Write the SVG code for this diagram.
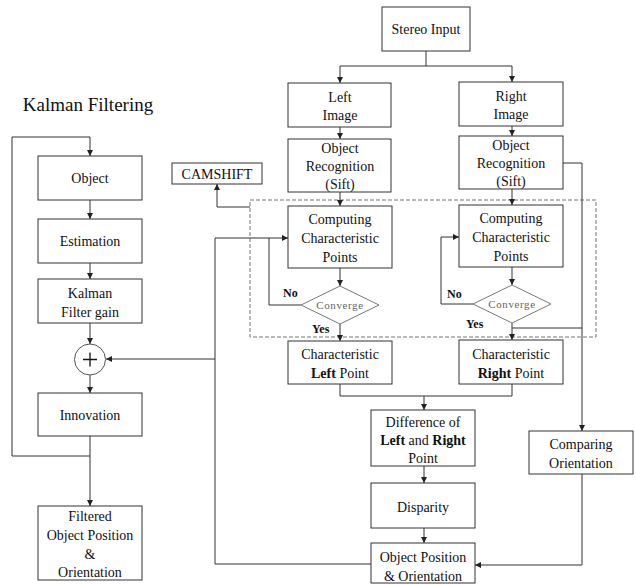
<svg xmlns="http://www.w3.org/2000/svg" width="636" height="585" viewBox="0 0 636 585" font-family="Liberation Serif, Times New Roman, serif">
<defs>
<marker id="ah" markerUnits="userSpaceOnUse" markerWidth="7" markerHeight="7" refX="6" refY="3.5" orient="auto">
<path d="M0,0.5 L6,3.5 L0,6.5 Z" fill="#222"/>
</marker>
<style>
.box{fill:#fff;stroke:#333;stroke-width:1}
.t{font-family:Liberation Serif, serif;font-size:14px;fill:#111;text-anchor:middle}
.b{font-weight:bold}
.c{fill:none;stroke:#333;stroke-width:1}
.a{fill:none;stroke:#333;stroke-width:1;marker-end:url(#ah)}
.dia{fill:#fff;stroke:#777;stroke-width:1}
.cv{font-family:Liberation Serif, serif;font-size:11px;fill:#666;text-anchor:middle;letter-spacing:0.6px}
.lbl{font-family:Liberation Serif, serif;font-size:12px;font-weight:bold;fill:#111}
.ttl{font-family:Liberation Serif, serif;font-size:19px;fill:#111;text-anchor:middle}
</style>
</defs>
<rect width="636" height="585" fill="#fff"/>

<text class="ttl" x="88" y="111" font-family="Liberation Serif">Kalman Filtering</text>

<rect x="250" y="200" width="346" height="137" fill="none" stroke="#777" stroke-width="1" stroke-dasharray="4 2"/>

<g id="connectors">
<path class="c" d="M426,51 V66"/>
<path class="a" d="M426,66 H340 V83"/>
<path class="a" d="M426,66 H512 V82"/>
<path class="a" d="M340,127 V139"/>
<path class="a" d="M512,126 V136"/>
<path class="a" d="M340,192 V206"/>
<path class="a" d="M512,189 V205"/>
<path class="a" d="M250,207 H217 V184"/>
<path class="a" d="M340,268 V286"/>
<path class="a" d="M512,267 V285"/>
<path class="c" d="M301,305 H269 V238"/>
<path class="a" d="M473,304 H441 V237 H459"/>
<path class="a" d="M340,324 V341"/>
<path class="a" d="M512,323 V340"/>
<path class="c" d="M512,328 H582"/>
<path class="a" d="M563,163 H582 V431"/>
<path class="a" d="M582,474 V565 H475"/>
<path class="c" d="M340,384 V396 H512 V384"/>
<path class="a" d="M424,396 V410"/>
<path class="a" d="M424,466 V483"/>
<path class="a" d="M424,528 V543"/>
<path class="a" d="M371,564 H215 V238 H288"/>
<path class="a" d="M215,359 H106"/>
<path class="a" d="M90,200 V219"/>
<path class="a" d="M90,263 V279"/>
<path class="a" d="M90,323 V344"/>
<path class="a" d="M90,375 V393"/>
<path class="a" d="M90,436 V456 H12 V137 H90 V156"/>
<path class="a" d="M90,456 V506"/>
</g>

<g id="stereo"><rect class="box" x="382" y="7" width="88" height="44"/><text class="t" x="426" y="34">Stereo Input</text></g>
<g id="left-image"><rect class="box" x="288" y="83" width="103" height="44"/><text class="t" x="340" y="102">Left</text><text class="t" x="340" y="120">Image</text></g>
<g id="right-image"><rect class="box" x="459" y="82" width="104" height="44"/><text class="t" x="511" y="101">Right</text><text class="t" x="511" y="119">Image</text></g>
<g id="left-or"><rect class="box" x="288" y="139" width="103" height="53"/><text class="t" x="340" y="153">Object</text><text class="t" x="340" y="171">Recognition</text><text class="t" x="340" y="189">(Sift)</text></g>
<g id="right-or"><rect class="box" x="459" y="136" width="104" height="53"/><text class="t" x="511" y="150">Object</text><text class="t" x="511" y="168">Recognition</text><text class="t" x="511" y="186">(Sift)</text></g>
<g id="camshift"><rect class="box" x="172" y="163" width="90" height="21"/><text class="t" x="217" y="179">CAMSHIFT</text></g>
<g id="left-ccp"><rect class="box" x="288" y="206" width="104" height="62"/><text class="t" x="340" y="224">Computing</text><text class="t" x="340" y="243">Characteristic</text><text class="t" x="340" y="262">Points</text></g>
<g id="right-ccp"><rect class="box" x="459" y="205" width="104" height="62"/><text class="t" x="511" y="223">Computing</text><text class="t" x="511" y="242">Characteristic</text><text class="t" x="511" y="261">Points</text></g>
<g id="left-conv"><polygon class="dia" points="340,286 379,305 340,324 301,305"/><text class="cv" x="340" y="309">Converge</text><text class="lbl" x="283" y="297">No</text><text class="lbl" x="312" y="333">Yes</text></g>
<g id="right-conv"><polygon class="dia" points="512,285 551,304 512,323 473,304"/><text class="cv" x="512" y="308">Converge</text><text class="lbl" x="447" y="298">No</text><text class="lbl" x="466" y="328">Yes</text></g>
<g id="left-point"><rect class="box" x="288" y="341" width="104" height="43"/><text class="t" x="340" y="359">Characteristic</text><text class="t" x="340" y="378"><tspan class="b">Left</tspan> Point</text></g>
<g id="right-point"><rect class="box" x="459" y="340" width="104" height="44"/><text class="t" x="511" y="359">Characteristic</text><text class="t" x="511" y="378"><tspan class="b">Right</tspan> Point</text></g>
<g id="difference"><rect class="box" x="371" y="410" width="104" height="56"/><text class="t" x="423" y="427">Difference of</text><text class="t" x="423" y="445"><tspan class="b">Left</tspan> and <tspan class="b">Right</tspan></text><text class="t" x="423" y="463">Point</text></g>
<g id="disparity"><rect class="box" x="371" y="483" width="104" height="45"/><text class="t" x="423" y="512">Disparity</text></g>
<g id="objpos"><rect class="box" x="371" y="543" width="104" height="40"/><text class="t" x="423" y="562">Object Position</text><text class="t" x="423" y="581">&amp; Orientation</text></g>
<g id="comparing"><rect class="box" x="529" y="431" width="104" height="43"/><text class="t" x="581" y="449">Comparing</text><text class="t" x="581" y="468">Orientation</text></g>

<g id="k-object"><rect class="box" x="38" y="156" width="104" height="44"/><text class="t" x="90" y="183">Object</text></g>
<g id="k-estimation"><rect class="box" x="38" y="219" width="104" height="44"/><text class="t" x="90" y="246">Estimation</text></g>
<g id="k-gain"><rect class="box" x="38" y="279" width="104" height="44"/><text class="t" x="90" y="298">Kalman</text><text class="t" x="90" y="317">Filter gain</text></g>
<g id="k-sum"><circle cx="90" cy="359.5" r="15.5" fill="#fff" stroke="#555" stroke-width="1"/><path d="M83,359.5 H97 M90,352.5 V366.5" stroke="#111" stroke-width="1.3"/></g>
<g id="k-innovation"><rect class="box" x="38" y="393" width="104" height="43"/><text class="t" x="90" y="420">Innovation</text></g>
<g id="k-filtered"><rect class="box" x="38" y="506" width="104" height="74"/><text class="t" x="90" y="521">Filtered</text><text class="t" x="90" y="540">Object Position</text><text class="t" x="90" y="559">&amp;</text><text class="t" x="90" y="577">Orientation</text></g>
</svg>
